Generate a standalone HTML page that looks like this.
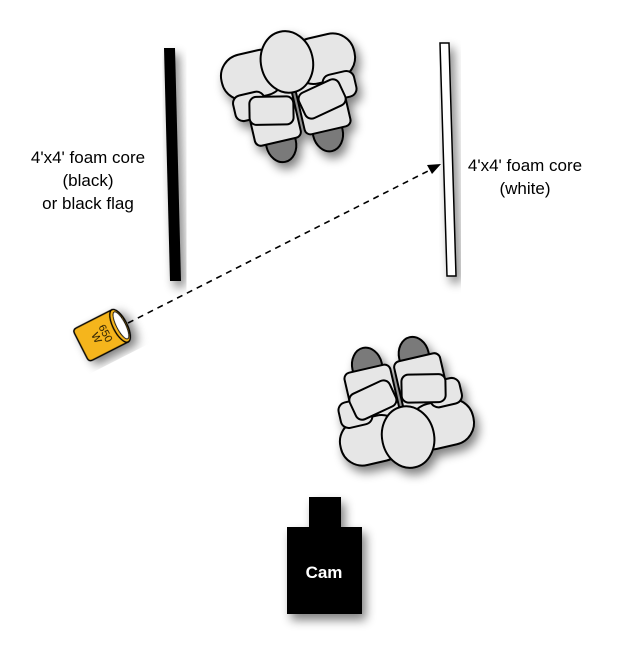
<!DOCTYPE html>
<html><head><style>
html,body{margin:0;padding:0;background:#fff;}
svg{display:block;}
text{font-family:"Liberation Sans",sans-serif;}
</style></head><body>
<svg width="618" height="652" viewBox="0 0 618 652" xmlns="http://www.w3.org/2000/svg">
<defs>
<filter id="sh" x="-30%" y="-30%" width="160%" height="160%">
<feGaussianBlur in="SourceAlpha" stdDeviation="5"/>
<feOffset dx="4" dy="6"/>
<feComponentTransfer><feFuncA type="linear" slope="0.5"/></feComponentTransfer>
<feMerge><feMergeNode/><feMergeNode in="SourceGraphic"/></feMerge>
</filter>
<g id="person" stroke="#000" stroke-width="2">
<ellipse cx="-24" cy="42" rx="15" ry="19" fill="#7a7a7a"/>
<ellipse cx="24" cy="42" rx="15" ry="19" fill="#7a7a7a"/>
<rect x="-49" y="-22" width="47" height="62" rx="6" fill="#e6e6e6"/>
<rect x="2" y="-22" width="47" height="62" rx="6" fill="#e6e6e6"/>
<rect x="-68" y="-54" width="64" height="46" rx="22" fill="#e6e6e6"/>
<rect x="4" y="-54" width="64" height="46" rx="22" fill="#e6e6e6"/>
<rect x="-62" y="-14" width="32" height="26" rx="8" fill="#e6e6e6"/>
<rect x="30" y="-14" width="32" height="26" rx="8" fill="#e6e6e6"/>
<rect x="-48" y="-6" width="44" height="28" rx="7" fill="#e6e6e6" transform="rotate(12 -26 8)"/>
<rect x="4" y="-6" width="44" height="28" rx="7" fill="#e6e6e6" transform="rotate(-12 26 8)"/>
<ellipse cx="0" cy="-36" rx="26" ry="31" fill="#e6e6e6"/>
</g>
</defs>

<polygon points="164,48 175,48 181,281 170,281" fill="#000" filter="url(#sh)"/>
<polygon points="440,43 449,43 456,276 447,276" fill="#fff" stroke="#000" stroke-width="1.5" filter="url(#sh)"/>

<text x="88" y="163" font-size="17" text-anchor="middle">4'x4' foam core</text>
<text x="88" y="186" font-size="17" text-anchor="middle">(black)</text>
<text x="88" y="209" font-size="17" text-anchor="middle">or black flag</text>
<text x="525" y="171" font-size="17" text-anchor="middle">4'x4' foam core</text>
<text x="525" y="194" font-size="17" text-anchor="middle">(white)</text>

<g filter="url(#sh)"><use href="#person" transform="translate(295,97) rotate(-13)"/></g>
<g filter="url(#sh)"><use href="#person" transform="translate(400,402) rotate(167)"/></g>

<line x1="128" y1="323" x2="432" y2="169" stroke="#000" stroke-width="1.6" stroke-dasharray="6,5"/>
<polygon points="441,164 427,165 432,174" fill="#000"/>

<g transform="translate(104,334) rotate(-27)" filter="url(#sh)">
<path d="M-22,-18 L18,-18 L18,18 L-22,18 Q-26,18 -26,14 L-26,-14 Q-26,-18 -22,-18 Z" fill="#f5b51e" stroke="#000" stroke-width="1.5"/>
<ellipse cx="18" cy="0" rx="7" ry="18" fill="#f5b51e" stroke="#000" stroke-width="1.5"/>
<ellipse cx="19" cy="0" rx="4.5" ry="15" fill="#fff" stroke="#000" stroke-width="1"/>
<text transform="translate(-2,0) rotate(90)" font-size="11" text-anchor="middle">650</text>
<text transform="translate(-12,0) rotate(90)" font-size="11" text-anchor="middle">W</text>
</g>

<g filter="url(#sh)">
<rect x="309" y="497" width="32" height="31" fill="#000"/>
<rect x="287" y="527" width="75" height="87" fill="#000"/>
</g>
<text x="324" y="578" font-size="17" font-weight="bold" fill="#fff" text-anchor="middle">Cam</text>
</svg>
</body></html>
